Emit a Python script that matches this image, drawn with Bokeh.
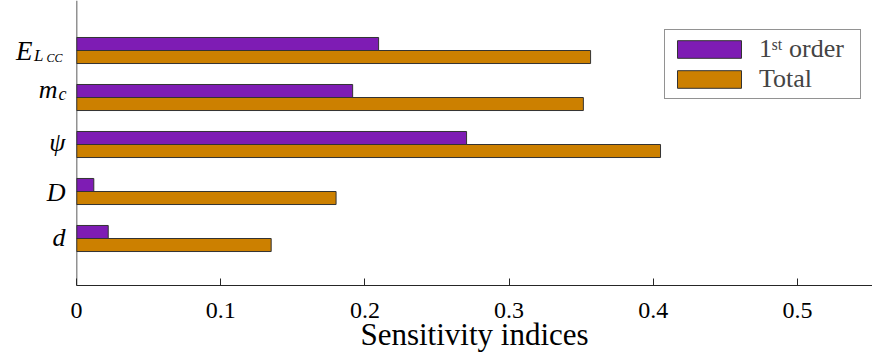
from bokeh.plotting import figure
from bokeh.layouts import row
from bokeh.models import (ColumnDataSource, FixedTicker, Legend, LegendItem, Range1d, Span)
from bokeh.transform import dodge
from bokeh.core.properties import value
from bokeh.embed import file_html
from bokeh.resources import INLINE

# ---- data (bottom to top) ----
params = ["d", "D", "psi", "m_c", "E_LCC"]
ypos = [1, 2, 3, 4, 5]
first_order = [0.022, 0.012, 0.2705, 0.1915, 0.2095]
total = [0.135, 0.180, 0.405, 0.3515, 0.3565]
xticks = [0, 0.1, 0.2, 0.3, 0.4, 0.5]
xtick_labels = ["0", "0.1", "0.2", "0.3", "0.4", "0.5"]
series_labels = ["1\u02e2\u1d57 order", "Total"]
x_label = "Sensitivity indices"

# y tick label pieces: (category index, text, x offset from axis, baseline offset, size)
label_pieces = [
    (4, "E", -44, 0, "27px"), (4, "L", -33, 5, "17px"), (4, "CC", -14, 7, "12px"),
    (3, "m", -19, -8, "26px"), (3, "c", -10, -4, "18px"),
    (2, "\u03c8", -11, -2, "26px"),
    (1, "D", -11, 1, "26px"),
    (0, "d", -11, -1, "26px"),
]

PURPLE = "#7e1cb4"
ORANGE = "#cc8000"
EDGE = "#333333"
AX = "#262626"
FONT = "Liberation Serif"

FRAME_H = 285
BORDER = 8
yr = Range1d(0, 6.064)

src = ColumnDataSource(dict(y=ypos, first=first_order, total=total, name=params))

p = figure(frame_width=796, frame_height=FRAME_H, output_backend="svg", toolbar_location=None,
           x_range=Range1d(0, 0.552), y_range=yr, y_axis_location=None,
           min_border_left=BORDER, min_border_right=0, min_border_top=0, min_border_bottom=0)
p.outline_line_color = None
p.xgrid.grid_line_color = None
p.ygrid.grid_line_color = None

bh = 0.277
r1 = p.hbar(y=dodge("y", bh / 2, range=p.y_range), right="first", left=0, height=bh,
            source=src, fill_color=PURPLE, line_color=EDGE, line_width=1)
r2 = p.hbar(y=dodge("y", -bh / 2, range=p.y_range), right="total", left=0, height=bh,
            source=src, fill_color=ORANGE, line_color=EDGE, line_width=1)

p.add_layout(Span(location=0, dimension="height", line_color=AX, line_width=1.5))

xa = p.xaxis[0]
xa.ticker = FixedTicker(ticks=xticks)
xa.major_label_overrides = {t: l for t, l in zip(xticks, xtick_labels)}
xa.minor_tick_line_color = None
xa.major_tick_in = 7
xa.major_tick_out = 0
xa.axis_line_color = AX
xa.major_tick_line_color = AX
xa.major_label_text_font = FONT
xa.major_label_text_font_size = "24px"
xa.major_label_text_color = "#000000"
xa.major_label_standoff = 17
xa.axis_label = x_label
xa.axis_label_text_font = FONT
xa.axis_label_text_font_size = "31px"
xa.axis_label_text_font_style = "normal"
xa.axis_label_text_color = "#000000"
xa.axis_label_standoff = -4

legend = Legend(items=[LegendItem(label=series_labels[0], renderers=[r1]),
                       LegendItem(label=series_labels[1], renderers=[r2])],
                location=(588, 186))
legend.glyph_width = 80
legend.glyph_height = 22
legend.spacing = 0
legend.padding = 4
legend.margin = 0
legend.label_standoff = 10
legend.label_width = 97
legend.label_text_font = FONT
legend.label_text_font_size = "26px"
legend.label_height = 22
legend.border_line_color = AX
legend.border_line_width = 1
legend.background_fill_alpha = 1
p.add_layout(legend)

# left panel holding the y tick labels
lsrc = ColumnDataSource(dict(
    y=[ypos[i] for i, *_ in label_pieces],
    text=[t for _, t, *_ in label_pieces],
    xo=[xo for *_, xo, yo, s in label_pieces],
    yo=[yo for *_, yo, s in label_pieces],
    size=[s for *_, s in label_pieces],
))
left = figure(frame_width=76 - BORDER, frame_height=FRAME_H, output_backend="svg",
              toolbar_location=None, x_range=Range1d(-76, -BORDER), y_range=yr,
              x_axis_location=None, y_axis_location=None,
              min_border_left=0, min_border_right=0, min_border_top=0, min_border_bottom=0)
left.outline_line_color = None
left.xgrid.grid_line_color = None
left.ygrid.grid_line_color = None
left.text(x=0, y="y", text="text", x_offset="xo", y_offset="yo", source=lsrc,
          text_font=value(FONT), text_font_style="italic", text_font_size="size",
          text_align="right", text_baseline="alphabetic", text_color="#000000")

layout = row(left, p, spacing=0)
open("out.html", "w").write(file_html(layout, INLINE))
